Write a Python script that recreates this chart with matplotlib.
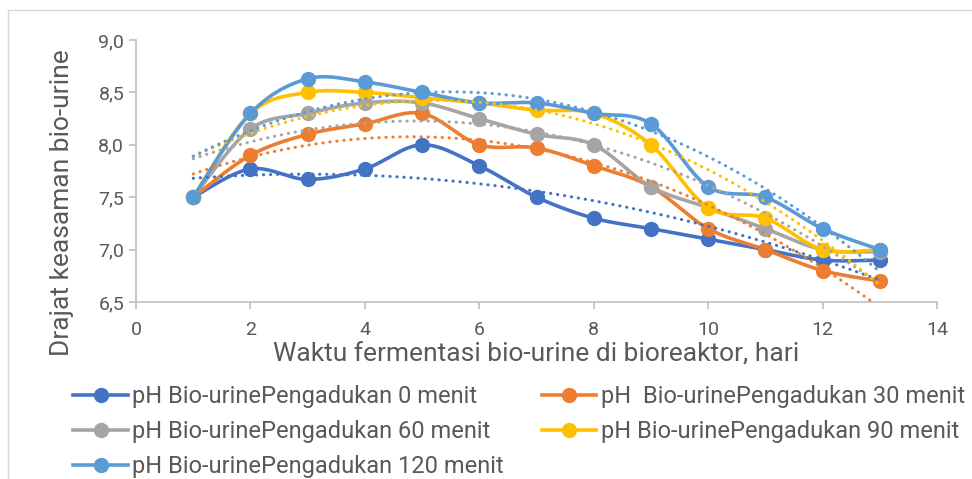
import numpy as np
import matplotlib
matplotlib.use("Agg")
import matplotlib.pyplot as plt
from matplotlib.patches import Rectangle

plt.rcParams['font.family'] = ['Roboto', 'DejaVu Sans']

# data
hari = [1, 2, 3, 4, 5, 6, 7, 8, 9, 10, 11, 12, 13]
ph_0 = [7.5, 7.77, 7.67, 7.77, 8.0, 7.8, 7.5, 7.3, 7.2, 7.1, 7.0, 6.9, 6.9]
ph_30 = [7.5, 7.9, 8.1, 8.2, 8.3, 8.0, 7.97, 7.8, 7.6, 7.2, 7.0, 6.8, 6.7]
ph_60 = [7.5, 8.15, 8.3, 8.4, 8.4, 8.25, 8.1, 8.0, 7.6, 7.4, 7.2, 7.0, 6.98]
ph_90 = [7.5, 8.3, 8.5, 8.5, 8.45, 8.4, 8.33, 8.3, 8.0, 7.4, 7.3, 7.0, 7.0]
ph_120 = [7.5, 8.3, 8.63, 8.6, 8.5, 8.4, 8.4, 8.3, 8.2, 7.6, 7.5, 7.2, 7.0]

labels = ['pH Bio-urinePengadukan 0 menit',
          'pH  Bio-urinePengadukan 30 menit',
          'pH Bio-urinePengadukan 60 menit',
          'pH Bio-urinePengadukan 90 menit',
          'pH Bio-urinePengadukan 120 menit']
colors = ['#4472C4', '#ED7D31', '#A5A5A5', '#FFC000', '#5B9BD5']
series = [ph_0, ph_30, ph_60, ph_90, ph_120]


def smooth(x, y, n=30):
    # excel-like smoothed line (cardinal bezier through the points)
    p = np.column_stack([x, y]).astype(float)
    p = np.vstack([p[0], p, p[-1]])
    out = []
    t = np.linspace(0, 1, n)[:, None]
    for i in range(1, len(p) - 2):
        p0, p3 = p[i], p[i + 1]
        c1 = p0 + (p[i + 1] - p[i - 1]) / 6
        c2 = p3 - (p[i + 2] - p[i]) / 6
        seg = ((1 - t) ** 3 * p0 + 3 * (1 - t) ** 2 * t * c1
               + 3 * (1 - t) * t ** 2 * c2 + t ** 3 * p3)
        out.append(seg)
    out = np.vstack(out)
    return out[:, 0], out[:, 1]


fig = plt.figure(figsize=(9.72, 4.79), dpi=100)
fig.patches.append(Rectangle((8 / 972, -0.1), 1.2, (479 - 10) / 479 + 0.1,
                             transform=fig.transFigure, fill=False,
                             edgecolor='#D9D9D9', lw=1))
ax = fig.add_axes([136 / 972, 1 - 302 / 479, (937 - 136) / 972, (302 - 40) / 479])

handles = []
for y, c, lab in zip(series, colors, labels):
    sx, sy = smooth(hari, y)
    ax.plot(sx, sy, color=c, lw=2.6, zorder=2)
    ax.plot(hari, y, 'o', color=c, ms=10, zorder=3)
    h, = ax.plot([], [], '-o', color=c, lw=2.6, ms=10, label=lab)
    handles.append(h)

# polynomial (order 2) trendlines, dotted
xt = np.linspace(1, 13, 200)
for y, c in zip(series, colors):
    coef = np.polyfit(hari, y, 2)
    ax.plot(xt, np.polyval(coef, xt), color=c, lw=2.2,
            linestyle=(0, (0.1, 2.2)), dash_capstyle='round', zorder=4)

ax.set_xlim(0, 14)
ax.set_ylim(6.5, 9.0)
ax.set_xticks(range(0, 15, 2))
yt = [6.5, 7.0, 7.5, 8.0, 8.5, 9.0]
ax.set_yticks(yt)
ax.set_yticklabels([f'{v:.1f}'.replace('.', ',') for v in yt])
for s in ['top', 'right']:
    ax.spines[s].set_visible(False)
for s in ['left', 'bottom']:
    ax.spines[s].set_color('#BFBFBF')
    ax.spines[s].set_linewidth(1.2)
ax.tick_params(colors='#BFBFBF', labelcolor='#595959', labelsize=14,
               length=5, width=1.2)
ax.tick_params(axis='x', pad=9)
ax.set_xlabel('Waktu fermentasi bio-urine di bioreaktor, hari',
              fontsize=19, color='#595959', labelpad=2)
ax.set_ylabel('Drajat keasaman bio-urine', fontsize=19, color='#595959')
ax.yaxis.set_label_coords(-0.078, 0.38)

# row-wise legend order: 0,30 / 60,90 / 120
order = [0, 2, 4, 1, 3]
fig.legend([handles[i] for i in order], [labels[i] for i in order],
           loc='upper left', bbox_to_anchor=(64 / 972, 1 - 376 / 479),
           ncol=2, frameon=False, fontsize=17, handlelength=2.3,
           handletextpad=0.2, columnspacing=1.6, labelspacing=0.5,
           borderaxespad=0, labelcolor='#595959')

fig.savefig('out.png', dpi=100)
